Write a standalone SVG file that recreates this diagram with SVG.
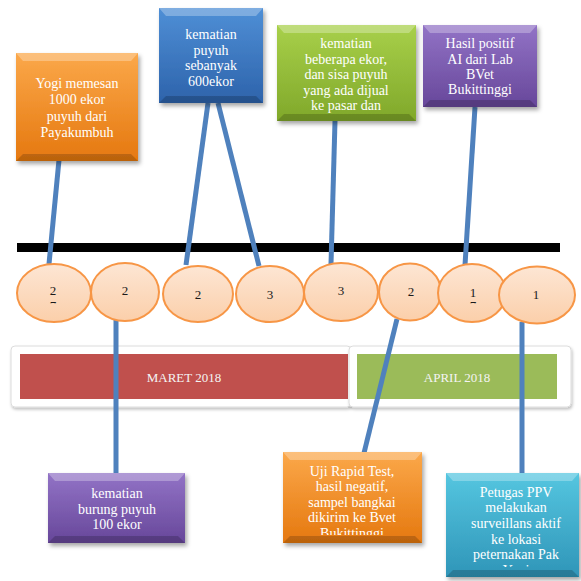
<svg xmlns="http://www.w3.org/2000/svg" width="581" height="581" viewBox="0 0 581 581">
<style>
.bt{font-family:"Liberation Serif","Times New Roman",serif;font-size:14px;fill:#ffffff;text-anchor:middle}
.num{font-family:"Liberation Serif","Times New Roman",serif;font-size:13px;fill:#1a1a1a;text-anchor:middle}
.bar{font-family:"Liberation Serif","Times New Roman",serif;font-size:13px;fill:#f4f4f4;text-anchor:middle}
.con{stroke:#4f81bd;stroke-width:5;fill:none}
.ell{fill:url(#gPeach);stroke:#f79646;stroke-width:2}
.hi{fill:#ffffff;fill-opacity:0.28}
.lo{fill:#000000;fill-opacity:0.18}
.panel{fill:#ffffff;stroke:#dcdcdc;stroke-width:1}
</style>
<defs>
<filter id="sh" x="-20%" y="-20%" width="140%" height="140%"><feDropShadow dx="2" dy="3" stdDeviation="2" flood-color="#000" flood-opacity="0.35"/></filter>
<filter id="shs" x="-20%" y="-20%" width="140%" height="140%"><feDropShadow dx="1" dy="2" stdDeviation="1.5" flood-color="#000" flood-opacity="0.25"/></filter>
<linearGradient id="gOrange" x1="0" y1="0" x2="0" y2="1"><stop offset="0" stop-color="#fba84a"/><stop offset="1" stop-color="#e5780f"/></linearGradient>
<linearGradient id="gBlue" x1="0" y1="0" x2="0" y2="1"><stop offset="0" stop-color="#4f8fd6"/><stop offset="1" stop-color="#2d63ab"/></linearGradient>
<linearGradient id="gGreen" x1="0" y1="0" x2="0" y2="1"><stop offset="0" stop-color="#a8d04a"/><stop offset="1" stop-color="#80a82a"/></linearGradient>
<linearGradient id="gPurple" x1="0" y1="0" x2="0" y2="1"><stop offset="0" stop-color="#9273c6"/><stop offset="1" stop-color="#67479a"/></linearGradient>
<linearGradient id="gCyan" x1="0" y1="0" x2="0" y2="1"><stop offset="0" stop-color="#55c6e0"/><stop offset="1" stop-color="#2f95b8"/></linearGradient>
<linearGradient id="gPeach" x1="0" y1="0" x2="0" y2="1"><stop offset="0" stop-color="#fde6d4"/><stop offset="1" stop-color="#fbcfaa"/></linearGradient>
<clipPath id="cF"><rect x="283" y="452" width="139" height="83"/></clipPath>
<clipPath id="cG"><rect x="446" y="473" width="133" height="94"/></clipPath>
<clipPath id="cE1"><rect x="30" y="270" width="50" height="33.5"/></clipPath>
<clipPath id="cE7"><rect x="450" y="270" width="50" height="33.5"/></clipPath>
</defs>

<rect x="0" y="0" width="581" height="581" fill="#ffffff"/>

<!-- month bars -->
<g id="maret">
<rect class="panel" x="11" y="346" width="340" height="61" rx="4" filter="url(#shs)"/>
<rect x="20" y="354" width="328" height="45" fill="#c0504d"/>
<text class="bar" x="184" y="382">MARET 2018</text>
</g>
<g id="april">
<rect class="panel" x="349" y="346" width="222" height="61" rx="4" filter="url(#shs)"/>
<rect x="357" y="354" width="200" height="45" fill="#9bbb59"/>
<text class="bar" x="457" y="382">APRIL 2018</text>
</g>

<!-- timeline -->
<rect id="timeline" x="17" y="243" width="543" height="9" fill="#000000"/>

<!-- connectors -->
<g id="connectors">
<line class="con" x1="59" y1="160" x2="49" y2="264"/>
<line class="con" x1="208" y1="103" x2="186" y2="265"/>
<line class="con" x1="218" y1="103" x2="259" y2="266"/>
<line class="con" x1="335" y1="121" x2="331" y2="264"/>
<line class="con" x1="475" y1="107" x2="465" y2="265"/>
<line class="con" x1="116" y1="320" x2="116" y2="474"/>
<line class="con" x1="397" y1="319" x2="364" y2="453"/>
<line class="con" x1="522" y1="322" x2="522" y2="474"/>
</g>

<!-- ellipses -->
<g id="e1"><ellipse class="ell" cx="54" cy="293" rx="37" ry="29"/><text class="num" x="53" y="295">2</text><text class="num" x="53" y="310" clip-path="url(#cE1)">7</text></g>
<g id="e2"><ellipse class="ell" cx="125" cy="292" rx="34" ry="29"/><text class="num" x="125" y="295">2</text></g>
<g id="e3"><ellipse class="ell" cx="198" cy="294" rx="35" ry="28"/><text class="num" x="198" y="298.5">2</text></g>
<g id="e4"><ellipse class="ell" cx="270" cy="294" rx="34" ry="28"/><text class="num" x="270" y="299">3</text></g>
<g id="e5"><ellipse class="ell" cx="341" cy="292" rx="37" ry="29"/><text class="num" x="341" y="295">3</text></g>
<g id="e6"><ellipse class="ell" cx="410" cy="292" rx="31" ry="28.5"/><text class="num" x="411" y="296">2</text></g>
<g id="e7"><ellipse class="ell" cx="472" cy="293" rx="34" ry="29"/><text class="num" x="473" y="297">1</text><text class="num" x="473" y="310" clip-path="url(#cE7)">7</text></g>
<g id="e8"><ellipse class="ell" cx="537" cy="295" rx="38" ry="28.5"/><text class="num" x="536" y="299">1</text></g>

<!-- top boxes -->
<g id="boxA">
<rect x="16" y="53" width="122" height="108" fill="url(#gOrange)" filter="url(#sh)"/>
<path class="hi" d="M16 53H138L131 61H23Z"/>
<path class="lo" d="M16 161H138L131 154H23Z"/>
<text class="bt" x="77" y="88">Yogi memesan</text>
<text class="bt" x="77" y="104.3">1000 ekor</text>
<text class="bt" x="77" y="120.6">puyuh dari</text>
<text class="bt" x="77" y="137">Payakumbuh</text>
</g>
<g id="boxB">
<rect x="159" y="8" width="104" height="95" fill="url(#gBlue)" filter="url(#sh)"/>
<path class="hi" d="M159 8H263L256 16H166Z"/>
<path class="lo" d="M159 103H263L256 96H166Z"/>
<text class="bt" x="211" y="39">kematian</text>
<text class="bt" x="211" y="54.5">puyuh</text>
<text class="bt" x="211" y="70">sebanyak</text>
<text class="bt" x="211" y="86">600ekor</text>
</g>
<g id="boxC">
<rect x="277" y="25" width="139" height="96" fill="url(#gGreen)" filter="url(#sh)"/>
<path class="hi" d="M277 25H416L409 33H284Z"/>
<path class="lo" d="M277 121H416L409 114H284Z"/>
<text class="bt" x="346" y="48">kematian</text>
<text class="bt" x="346" y="63.5">beberapa ekor,</text>
<text class="bt" x="346" y="79">dan sisa puyuh</text>
<text class="bt" x="346" y="94.5">yang ada dijual</text>
<text class="bt" x="346" y="110">ke pasar dan</text>
</g>
<g id="boxD">
<rect x="423" y="25" width="114" height="82" fill="url(#gPurple)" filter="url(#sh)"/>
<path class="hi" d="M423 25H537L530 33H430Z"/>
<path class="lo" d="M423 107H537L530 100H430Z"/>
<text class="bt" x="480" y="48">Hasil positif</text>
<text class="bt" x="480" y="64">AI dari Lab</text>
<text class="bt" x="480" y="79">BVet</text>
<text class="bt" x="480" y="94">Bukittinggi</text>
</g>

<!-- bottom boxes -->
<g id="boxE">
<rect x="48" y="473" width="137" height="70" fill="url(#gPurple)" filter="url(#sh)"/>
<path class="hi" d="M48 473H185L178 481H55Z"/>
<path class="lo" d="M48 543H185L178 536H55Z"/>
<text class="bt" x="117" y="498">kematian</text>
<text class="bt" x="117" y="514">burung puyuh</text>
<text class="bt" x="117" y="529">100 ekor</text>
</g>
<g id="boxF">
<rect x="283" y="452" width="139" height="91" fill="url(#gOrange)" filter="url(#sh)"/>
<path class="hi" d="M283 452H422L415 460H290Z"/>
<path class="lo" d="M283 543H422L415 536H290Z"/>
<g clip-path="url(#cF)">
<text class="bt" x="352" y="476">Uji Rapid Test,</text>
<text class="bt" x="352" y="491">hasil negatif,</text>
<text class="bt" x="352" y="507">sampel bangkai</text>
<text class="bt" x="352" y="522">dikirim ke Bvet</text>
<text class="bt" x="352" y="538">Bukittinggi</text>
</g>
</g>
<g id="boxG">
<rect x="446" y="473" width="133" height="104" fill="url(#gCyan)" filter="url(#sh)"/>
<path class="hi" d="M446 473H579L572 481H453Z"/>
<path class="lo" d="M446 577H579L572 570H453Z"/>
<g clip-path="url(#cG)">
<text class="bt" x="516" y="497">Petugas PPV</text>
<text class="bt" x="516" y="512">melakukan</text>
<text class="bt" x="516" y="528">surveillans aktif</text>
<text class="bt" x="516" y="544">ke lokasi</text>
<text class="bt" x="516" y="559">peternakan Pak</text>
<text class="bt" x="516" y="575">Yogi</text>
</g>
</g>
</svg>
